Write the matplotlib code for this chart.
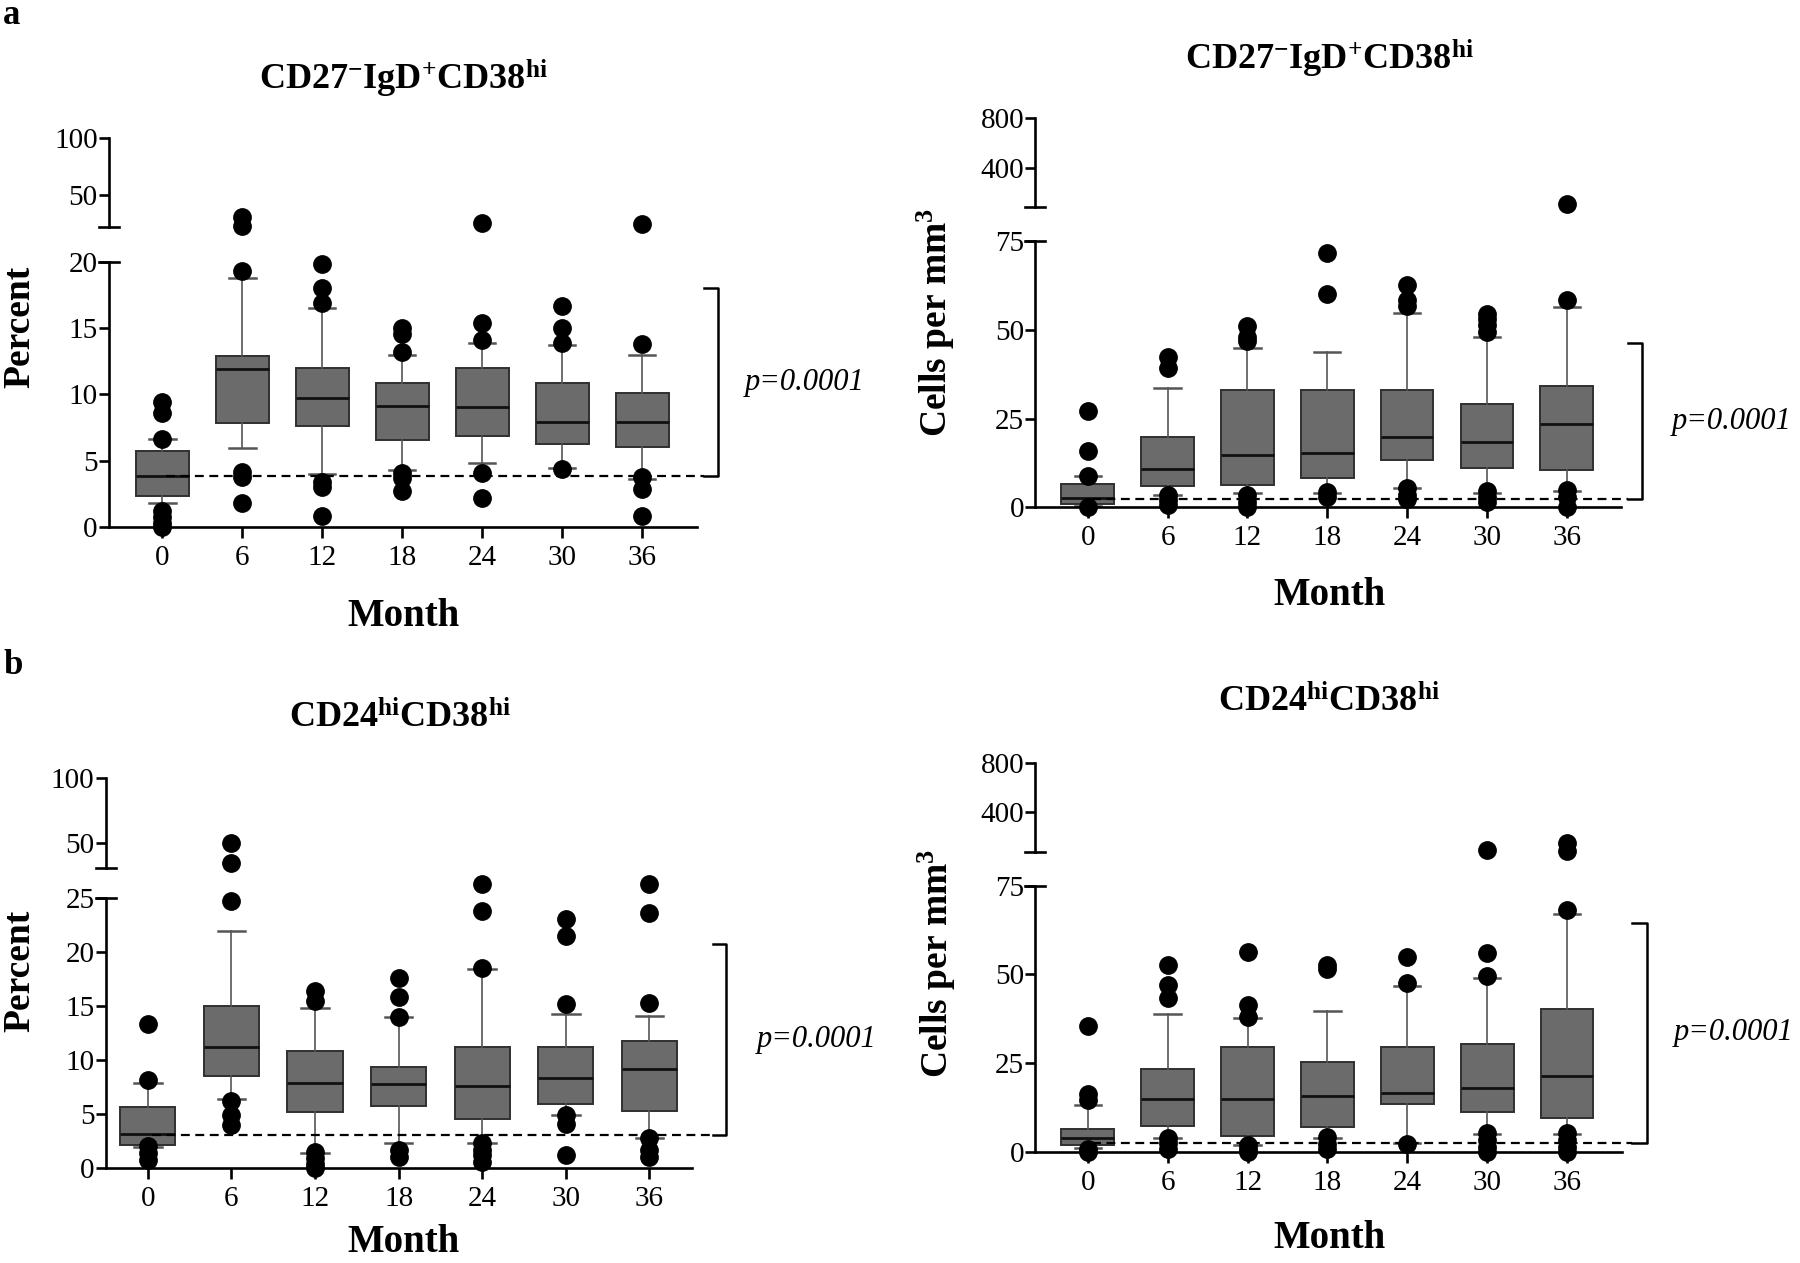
import numpy as np
import matplotlib
matplotlib.use("Agg")
import matplotlib.pyplot as plt

plt.rcParams['font.family'] = ['Liberation Serif', 'DejaVu Serif']
plt.rcParams['mathtext.fontset'] = 'custom'
plt.rcParams['mathtext.rm'] = 'Liberation Serif'
plt.rcParams['mathtext.bf'] = 'Liberation Serif:bold'
plt.rcParams['mathtext.it'] = 'Liberation Serif:italic'

W, H = 1800, 1263
months = ["0", "6", "12", "18", "24", "30", "36"]

#Data##############################################################################
# a, percent of CD27-IgD+CD38hi
a_pct_q1 = [2.36, 7.83, 7.65, 6.57, 6.88, 6.27, 6.02]
a_pct_med = [3.9, 11.9, 9.7, 9.13, 9.03, 7.9, 7.95]
a_pct_q3 = [5.77, 12.9, 12.0, 10.84, 12.0, 10.84, 10.09]
a_pct_lo = [1.86, 5.95, 4.0, 4.3, 4.87, 4.44, 3.6]
a_pct_hi = [6.65, 18.8, 16.5, 12.97, 13.9, 13.73, 12.97]
a_pct_out = [[9.46, 8.58, 6.65, 1.25, 0.75, 0.35, 0.05],
             [31.0, 22.7, 19.3, 4.14, 3.76, 1.8],
             [19.8, 18.0, 16.9, 3.44, 3.0, 0.85],
             [15.0, 14.55, 13.2, 4.07, 3.7, 2.7],
             [24.9, 15.4, 14.1, 4.07, 2.18],
             [16.7, 15.0, 13.9, 4.37],
             [24.3, 13.8, 3.76, 2.86, 0.85]]
a_pct_base, a_pct_top = 3.86, 18.0

# a, cells per mm3
a_abs_q1 = [0.94, 6.0, 6.3, 8.35, 13.3, 11.0, 10.5]
a_abs_med = [2.72, 10.9, 14.7, 15.2, 19.9, 18.3, 23.5]
a_abs_q3 = [6.57, 19.7, 33.0, 33.0, 33.0, 29.0, 34.2]
a_abs_lo = [0.5, 3.5, 4.1, 4.1, 5.35, 4.1, 4.7]
a_abs_hi = [8.8, 33.7, 44.9, 43.8, 54.6, 48.0, 56.3]
a_abs_out = [[27.2, 15.9, 8.8, 0.0],
             [42.4, 39.1, 3.5, 2.1, 0.7],
             [51.0, 48.0, 46.9, 3.5, 1.6, 0.2],
             [71.7, 60.0, 4.4, 3.0],
             [62.6, 58.3, 56.7, 5.3, 3.5, 2.3],
             [54.4, 52.9, 51.3, 49.4, 4.7, 3.0, 1.6],
             [103.0, 58.5, 4.9, 3.0, 0.0]]
a_abs_base, a_abs_top = 2.25, 46.2

# b, percent of CD24hiCD38hi
b_pct_q1 = [2.16, 8.53, 5.17, 5.76, 4.53, 5.9, 5.3]
b_pct_med = [3.17, 11.2, 7.85, 7.76, 7.64, 8.37, 9.17]
b_pct_q3 = [5.63, 15.0, 10.8, 9.4, 11.24, 11.24, 11.8]
b_pct_lo = [1.94, 6.4, 1.4, 2.37, 2.3, 4.93, 2.83]
b_pct_hi = [7.85, 21.9, 14.84, 13.95, 18.4, 14.25, 14.1]
b_pct_out = [[13.3, 8.2, 2.06, 1.4, 0.77],
             [49.5, 34.0, 24.7, 6.25, 4.9, 4.0],
             [16.4, 15.5, 1.54, 0.92, 0.4, 0.0],
             [17.6, 15.8, 14.0, 1.7, 1.0],
             [26.3, 23.8, 18.5, 2.3, 1.7, 1.23, 0.6],
             [23.0, 21.5, 15.15, 4.93, 4.1, 1.23],
             [26.3, 23.6, 15.3, 2.77, 1.7, 1.0]]
b_pct_base, b_pct_top = 3.1, 20.7

# b, cells per mm3
b_abs_q1 = [1.9, 7.24, 4.4, 6.9, 13.4, 11.3, 9.4]
b_abs_med = [4.0, 15.0, 15.0, 15.7, 16.6, 18.1, 21.4]
b_abs_q3 = [6.3, 23.2, 29.6, 25.2, 29.6, 30.5, 40.1]
b_abs_lo = [0.94, 4.0, 1.9, 3.8, 2.5, 5.0, 5.0]
b_abs_hi = [13.2, 38.7, 37.8, 39.7, 46.7, 48.9, 67.0]
b_abs_out = [[35.5, 16.3, 14.6, 0.9, 0.0],
             [52.6, 47.0, 43.2, 4.0, 2.5, 0.9],
             [56.4, 41.4, 38.1, 1.9, 0.7, 0.0],
             [52.6, 51.4, 4.2, 2.3, 0.9],
             [54.8, 47.5, 2.3],
             [87.0, 56.1, 49.6, 5.2, 3.3, 1.4, 0.0],
             [142.0, 76.0, 68.1, 5.2, 3.3, 1.4, 0.0]]
b_abs_base, b_abs_top = 2.5, 64.6

#Layout (pixels in the 1800x1263 picture)##########################################
panels = [
    dict(q1=a_pct_q1, med=a_pct_med, q3=a_pct_q3, lo=a_pct_lo, hi=a_pct_hi, out=a_pct_out,
         base=a_pct_base, top=a_pct_top, split=20.5,
         left=108.7, right=697, c0=162.3, sp=80.0,
         low_bot=527.3, low_top=261.7, low_lim=(0, 20), low_ticks=[0, 5, 10, 15, 20],
         up_bot=227.3, up_top=138.3, up_lim=(21.5, 100), up_ticks=[50, 100],
         brx=6.95, brt=6.77, ptx=7.28,
         title=r"CD27$^{\mathbf{-}}$IgD$^{\mathbf{+}}$CD38$^{\mathbf{hi}}$", title_xy=(403, 89),
         ylabel="Percent", ylab_xy=(20, 327), month_xy=(403, 626)),
    dict(q1=a_abs_q1, med=a_abs_med, q3=a_abs_q3, lo=a_abs_lo, hi=a_abs_hi, out=a_abs_out,
         base=a_abs_base, top=a_abs_top, split=76,
         left=1035.3, right=1620.8, c0=1087.7, sp=79.85,
         low_bot=507.3, low_top=241, low_lim=(0, 75), low_ticks=[0, 25, 50, 75],
         up_bot=207.3, up_top=118.3, up_lim=(79, 800), up_ticks=[400, 800],
         brx=6.94, brt=6.77, ptx=7.31,
         title=r"CD27$^{\mathbf{-}}$IgD$^{\mathbf{+}}$CD38$^{\mathbf{hi}}$", title_xy=(1329, 70),
         ylabel=r"Cells per mm$^{\mathbf{3}}$", ylab_xy=(936, 322), month_xy=(1329, 605)),
    dict(q1=b_pct_q1, med=b_pct_med, q3=b_pct_q3, lo=b_pct_lo, hi=b_pct_hi, out=b_pct_out,
         base=b_pct_base, top=b_pct_top, split=28,
         left=105.5, right=691.7, c0=147.8, sp=83.6,
         low_bot=1168.3, low_top=897.7, low_lim=(0, 25), low_ticks=[0, 5, 10, 15, 20, 25],
         up_bot=868.3, up_top=778.3, up_lim=(30, 100), up_ticks=[50, 100],
         brx=6.92, brt=6.76, ptx=7.28,
         title=r"CD24$^{\mathbf{hi}}$CD38$^{\mathbf{hi}}$", title_xy=(400, 728),
         ylabel="Percent", ylab_xy=(20, 971), month_xy=(403, 1252)),
    dict(q1=b_abs_q1, med=b_abs_med, q3=b_abs_q3, lo=b_abs_lo, hi=b_abs_hi, out=b_abs_out,
         base=b_abs_base, top=b_abs_top, split=75.5,
         left=1035.3, right=1622, c0=1087.7, sp=79.9,
         low_bot=1151.7, low_top=885.7, low_lim=(0, 75), low_ticks=[0, 25, 50, 75],
         up_bot=851.7, up_top=762.7, up_lim=(73.5, 800), up_ticks=[400, 800],
         brx=7.0, brt=6.81, ptx=7.33,
         title=r"CD24$^{\mathbf{hi}}$CD38$^{\mathbf{hi}}$", title_xy=(1329, 712),
         ylabel=r"Cells per mm$^{\mathbf{3}}$", ylab_xy=(937, 963), month_xy=(1329, 1248)),
]

SPINE = 1.9
TICKFS = 21


def rect(left, right, top, bottom):
    return [left / W, 1 - bottom / H, (right - left) / W, (bottom - top) / H]


fig = plt.figure(figsize=(18, 12.63), dpi=100)

for p in panels:
    xlim = ((p['left'] - p['c0']) / p['sp'], (p['right'] - p['c0']) / p['sp'])
    capd = 10.0 / (p['right'] - p['left'])  # half length of the break caps, axes fraction

    low = fig.add_axes(rect(p['left'], p['right'], p['low_top'], p['low_bot']))
    up = fig.add_axes(rect(p['left'], p['right'], p['up_top'], p['up_bot']))

    stats = []
    for i in range(len(months)):
        stats.append(dict(q1=p['q1'][i], med=p['med'][i], q3=p['q3'][i],
                          whislo=p['lo'][i], whishi=p['hi'][i], fliers=[]))
    low.bxp(stats, positions=range(len(months)), widths=0.66, capwidths=0.33,
            patch_artist=True, showfliers=False,
            boxprops=dict(facecolor='#6b6b6b', edgecolor='#303030', linewidth=1.4),
            medianprops=dict(color='#111111', linewidth=2.0),
            whiskerprops=dict(color='#555555', linewidth=1.2),
            capprops=dict(color='#555555', linewidth=1.8))

    for i, vals in enumerate(p['out']):
        vals = np.array(vals)
        lo_v = vals[vals < p['split']]
        hi_v = vals[vals >= p['split']]
        low.plot(np.full(len(lo_v), i), lo_v, 'o', color='black', ms=12.5, clip_on=False, zorder=4)
        up.plot(np.full(len(hi_v), i), hi_v, 'o', color='black', ms=12.5, clip_on=False, zorder=4)

    # baseline (month 0 median) and significance bracket
    low.plot([0.05, p['brt']], [p['base'], p['base']], color='black', lw=1.6,
             dashes=(4, 2.5), clip_on=False, zorder=5)
    low.plot([p['brt'], p['brx'], p['brx'], p['brt']], [p['base'], p['base'], p['top'], p['top']],
             color='black', lw=1.8, clip_on=False)
    low.text(p['ptx'], (p['base'] + p['top']) / 2, "p=0.0001", style='italic',
             fontsize=22, ha='left', va='center')

    for ax in (low, up):
        ax.set_xlim(xlim)
        ax.spines['top'].set_visible(False)
        ax.spines['right'].set_visible(False)
        ax.spines['left'].set_linewidth(SPINE)
        ax.spines['bottom'].set_linewidth(SPINE)
        ax.patch.set_visible(False)
        ax.tick_params(axis='y', length=7, width=SPINE, labelsize=TICKFS, pad=1)

    low.set_ylim(p['low_lim'])
    low.set_yticks(p['low_ticks'])
    low.set_xticks(range(len(months)))
    low.set_xticklabels(months)
    low.tick_params(axis='x', length=8, width=SPINE, labelsize=TICKFS, pad=5)

    up.set_ylim(p['up_lim'])
    up.set_yticks(p['up_ticks'])
    up.spines['bottom'].set_visible(False)
    up.set_xticks([])

    # break caps
    low.plot([-capd, capd], [1, 1], transform=low.transAxes, color='black', lw=SPINE, clip_on=False)
    up.plot([-capd, capd], [0, 0], transform=up.transAxes, color='black', lw=SPINE, clip_on=False)

    fig.text(p['title_xy'][0] / W, 1 - p['title_xy'][1] / H, p['title'], fontsize=26,
             fontweight='bold', ha='center', va='baseline')
    fig.text(p['ylab_xy'][0] / W, 1 - p['ylab_xy'][1] / H, p['ylabel'], fontsize=27,
             fontweight='bold', rotation=90, ha='center', va='center')
    fig.text(p['month_xy'][0] / W, 1 - p['month_xy'][1] / H, "Month", fontsize=28,
             fontweight='bold', ha='center', va='baseline')

fig.text(3 / W, 1 - 24 / H, "a", fontsize=25, fontweight='bold', ha='left', va='baseline')
fig.text(3 / W, 1 - 674 / H, "b", fontsize=25, fontweight='bold', ha='left', va='baseline')

fig.savefig("out.png", dpi=100)
